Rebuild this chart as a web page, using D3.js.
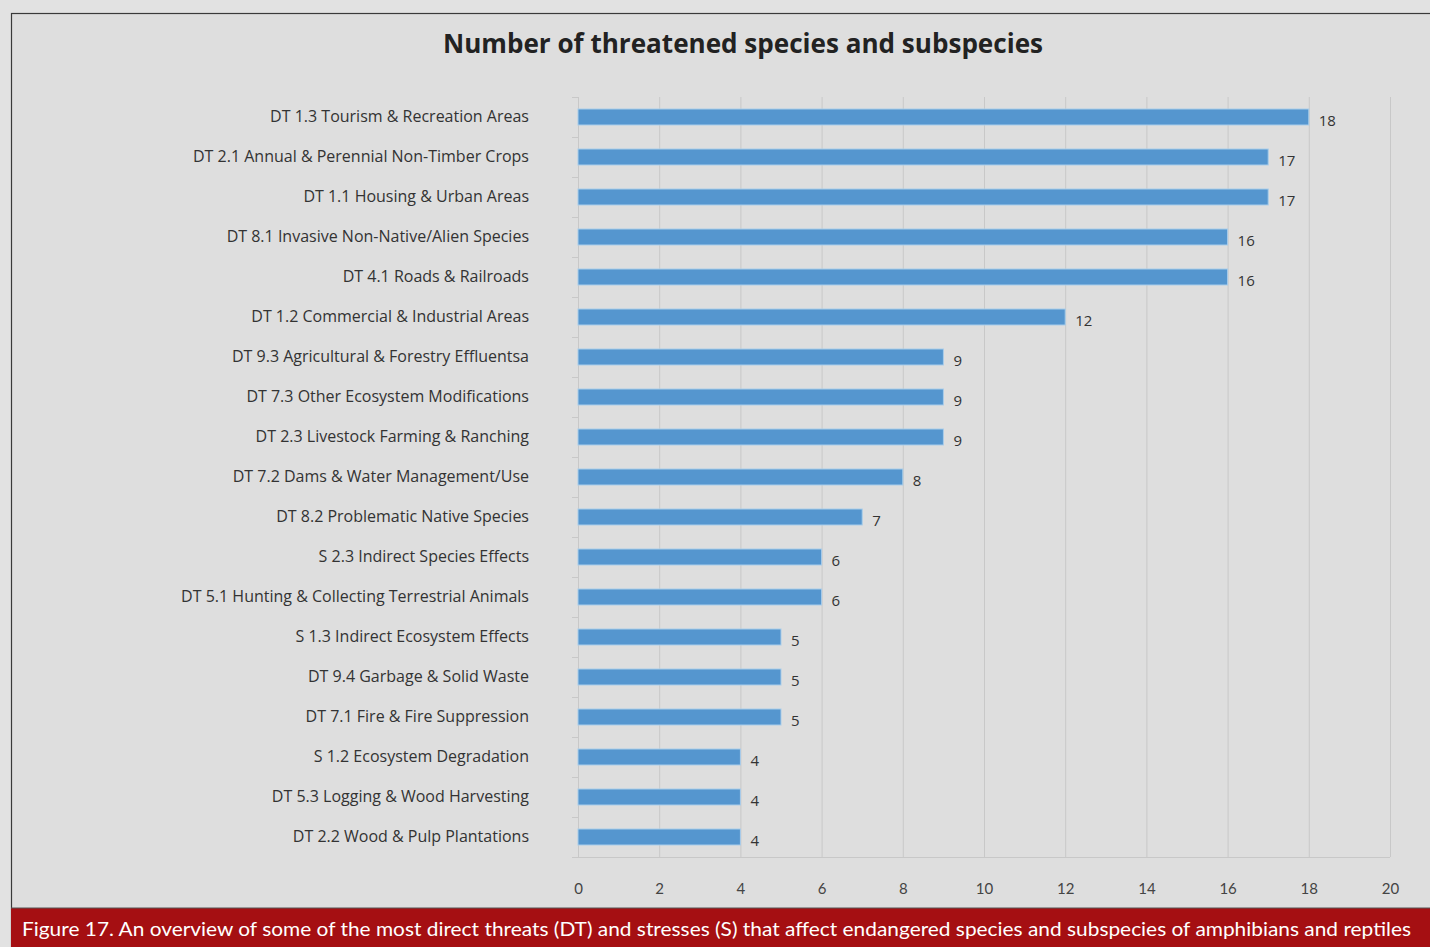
<!DOCTYPE html>
<html><head><meta charset="utf-8">
<script src="https://cdn.jsdelivr.net/npm/d3@7"></script>
<style>html,body{margin:0;padding:0;background:#e2e2e2;}svg{display:block;}</style>
</head><body>
<script>
const categories = [
  "DT 1.3 Tourism & Recreation Areas",
  "DT 2.1 Annual & Perennial Non-Timber Crops",
  "DT 1.1 Housing & Urban Areas",
  "DT 8.1 Invasive Non-Native/Alien Species",
  "DT 4.1 Roads & Railroads",
  "DT 1.2 Commercial & Industrial Areas",
  "DT 9.3 Agricultural & Forestry Effluentsa",
  "DT 7.3 Other Ecosystem Modifications",
  "DT 2.3 Livestock Farming & Ranching",
  "DT 7.2 Dams & Water Management/Use",
  "DT 8.2 Problematic Native Species",
  "S 2.3 Indirect Species Effects",
  "DT 5.1 Hunting & Collecting Terrestrial Animals",
  "S 1.3 Indirect Ecosystem Effects",
  "DT 9.4 Garbage & Solid Waste",
  "DT 7.1 Fire & Fire Suppression",
  "S 1.2 Ecosystem Degradation",
  "DT 5.3 Logging & Wood Harvesting",
  "DT 2.2 Wood & Pulp Plantations"
];
const values = [18,17,17,16,16,12,9,9,9,8,7,6,6,5,5,5,4,4,4];
const xTicks = [0,2,4,6,8,10,12,14,16,18,20];
const titleText = "Number of threatened species and subspecies";
const captionText = "Figure 17. An overview of some of the most direct threats (DT) and stresses (S) that affect endangered species and subspecies of amphibians and reptiles";

const W = 1430, H = 947;
const svg = d3.select("body").append("svg").attr("width", W).attr("height", H);
const font = "Lato, 'Open Sans', sans-serif";
const font2 = "'Open Sans', Lato, sans-serif";

// frame
svg.append("rect").attr("x",0).attr("y",0).attr("width",W).attr("height",H).attr("fill","#e2e2e2");
svg.append("rect").attr("x",11.5).attr("y",13.5).attr("width",W).attr("height",H).attr("fill","#dedede").attr("stroke","#3a3a3a").attr("stroke-width",1.2);

// caption band
svg.append("rect").attr("x",11).attr("y",908).attr("width",W-11).attr("height",H-908).attr("fill","#a50f12");
svg.append("line").attr("x1",11).attr("x2",W).attr("y1",908).attr("y2",908).attr("stroke","#555").attr("stroke-width",1);
svg.append("text").attr("x",22).attr("y",936).attr("fill","#fff")
  .attr("font-family",font).attr("font-size",20).text(captionText)
  .attr("textLength",1389).attr("lengthAdjust","spacingAndGlyphs");

// title
svg.append("text").attr("x",743).attr("y",53).attr("text-anchor","middle")
  .attr("font-family",font2).attr("font-weight","bold").attr("font-size",26).attr("fill","#222")
  .text(titleText).attr("textLength",600).attr("lengthAdjust","spacingAndGlyphs");

const x = d3.scaleLinear().domain([0,20]).range([578,1390]);
const y = d3.scaleBand().domain(categories).range([97,857]).paddingInner(0.6).paddingOuter(0.3);

// gridlines
svg.append("g").selectAll("line").data(xTicks.slice(1)).join("line")
  .attr("x1",d=>x(d)+0.5).attr("x2",d=>x(d)+0.5).attr("y1",97).attr("y2",857)
  .attr("stroke","#c8c8c8").attr("stroke-width",1);

// left axis line with ticks
svg.append("line").attr("x1",578.5).attr("x2",578.5).attr("y1",97).attr("y2",857).attr("stroke","#c8c8c8");
const step = y.step();
svg.append("g").selectAll("line").data(d3.range(categories.length+1)).join("line")
  .attr("x1",572).attr("x2",578).attr("y1",d=>97+d*step+0.5).attr("y2",d=>97+d*step+0.5)
  .attr("stroke","#c8c8c8");
// bottom axis line
svg.append("line").attr("x1",572).attr("x2",1390).attr("y1",857.5).attr("y2",857.5).attr("stroke","#c8c8c8");

// x tick labels
const xAxis = d3.axisBottom(x).tickValues(xTicks).tickSize(0).tickPadding(0);
const gx = svg.append("g").attr("transform","translate(0,883)").call(xAxis);
gx.select(".domain").remove();
gx.selectAll("text").attr("font-family",font).attr("font-size",15).attr("fill","#444");

// category labels
const yAxis = d3.axisLeft(y).tickSize(0).tickPadding(0);
const gy = svg.append("g").attr("transform","translate(529,0)").call(yAxis);
gy.select(".domain").remove();
gy.selectAll("text").attr("font-family",font2).attr("font-size",16).attr("fill","#333").attr("dy","0.33em");

// bars
svg.append("g").selectAll("rect").data(values).join("rect")
  .attr("x",x(0)).attr("y",(d,i)=>y(categories[i]))
  .attr("width",d=>x(d)-x(0)).attr("height",y.bandwidth())
  .attr("fill","#5596cf").attr("stroke","#a9cdea").attr("stroke-width",1);

// value labels
svg.append("g").selectAll("text").data(values).join("text")
  .attr("x",d=>x(d)+10).attr("y",(d,i)=>y(categories[i])+y.bandwidth()/2+9)
  .attr("font-family",font2).attr("font-size",15).attr("fill","#333").text(d=>d);
</script>
</body></html>
